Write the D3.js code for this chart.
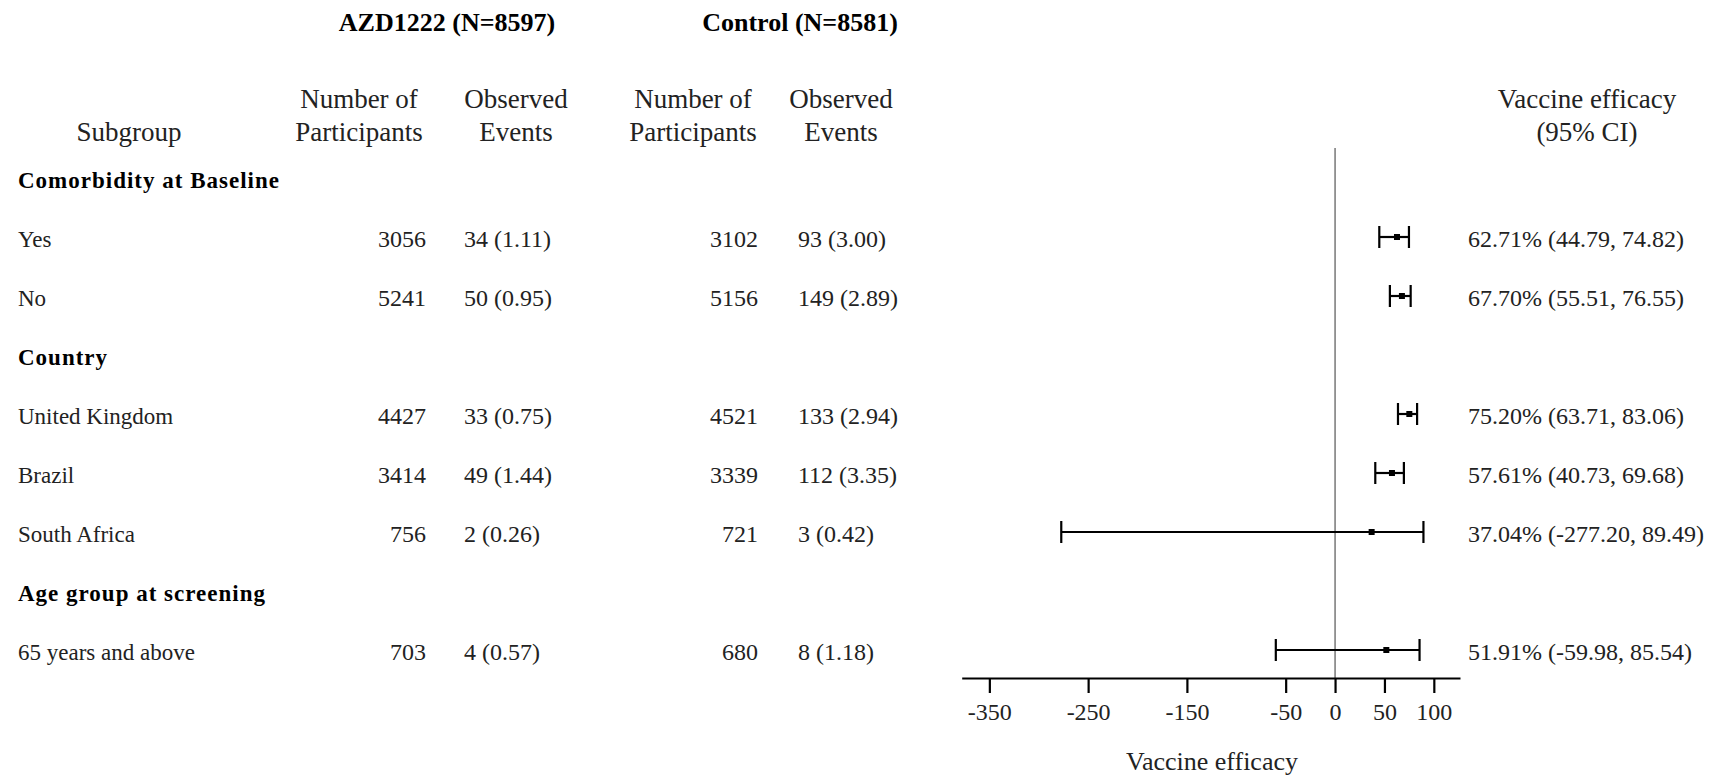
<!DOCTYPE html>
<html>
<head>
<meta charset="utf-8">
<script src="https://cdn.jsdelivr.net/npm/d3@7"></script>
<style>
  body { margin: 0; background: #fff; }
  svg { display: block; }
  text { font-family: "Liberation Serif", "Times New Roman", serif; fill: #222; }
</style>
</head>
<body>
<svg></svg>
<script>
const width = 1731;
const height = 776;

// table rows, top to bottom
const rowLabels = ['Comorbidity at Baseline', 'Yes', 'No', 'Country', 'United Kingdom',
  'Brazil', 'South Africa', 'Age group at screening', '65 years and above'];
const rowIsHeader = [true, false, false, true, false, false, false, true, false];

const azdN = [null, 3056, 5241, null, 4427, 3414, 756, null, 703];
const azdEvents = [null, '34 (1.11)', '50 (0.95)', null, '33 (0.75)', '49 (1.44)', '2 (0.26)', null, '4 (0.57)'];
const ctlN = [null, 3102, 5156, null, 4521, 3339, 721, null, 680];
const ctlEvents = [null, '93 (3.00)', '149 (2.89)', null, '133 (2.94)', '112 (3.35)', '3 (0.42)', null, '8 (1.18)'];

const ve = [null, 62.71, 67.70, null, 75.20, 57.61, 37.04, null, 51.91];
const veLow = [null, 44.79, 55.51, null, 63.71, 40.73, -277.20, null, -59.98];
const veHigh = [null, 74.82, 76.55, null, 83.06, 69.68, 89.49, null, 85.54];

const xTicks = [-350, -250, -150, -50, 0, 50, 100];

const svg = d3.select('svg')
  .attr('width', width)
  .attr('height', height);

const rows = rowLabels.map((label, i) => ({
  i, label, header: rowIsHeader[i],
  azdN: azdN[i], azdEvents: azdEvents[i],
  ctlN: ctlN[i], ctlEvents: ctlEvents[i],
  ve: ve[i], lo: veLow[i], hi: veHigh[i]
}));
const dataRows = rows.filter(d => !d.header);

const y = d3.scalePoint()
  .domain(rows.map(d => d.i))
  .range([180, 652]);

const x = d3.scaleLinear()
  .domain([-378, 126.5])
  .range([961.7, 1460]);

// column headings
const head = svg.append('g');
head.append('text')
  .attr('x', 447).attr('y', 31)
  .attr('text-anchor', 'middle')
  .attr('font-size', 26).attr('font-weight', 'bold')
  .style('fill', '#000')
  .text('AZD1222 (N=8597)');
head.append('text')
  .attr('x', 800).attr('y', 31)
  .attr('text-anchor', 'middle')
  .attr('font-size', 26).attr('font-weight', 'bold')
  .style('fill', '#000')
  .text('Control (N=8581)');

const colHeads = [
  { x: 129, lines: ['', 'Subgroup'] },
  { x: 359, lines: ['Number of', 'Participants'] },
  { x: 516, lines: ['Observed', 'Events'] },
  { x: 693, lines: ['Number of', 'Participants'] },
  { x: 841, lines: ['Observed', 'Events'] },
  { x: 1587, lines: ['Vaccine efficacy', '(95% CI)'] }
];
colHeads.forEach(c => {
  c.lines.forEach((t, k) => {
    head.append('text')
      .attr('x', c.x).attr('y', 108 + k * 33)
      .attr('text-anchor', 'middle')
      .attr('font-size', 27)
      .text(t);
  });
});

// left table
const table = svg.append('g');
table.selectAll('.label')
  .data(rows)
  .enter()
  .append('text')
    .attr('class', 'label')
    .attr('x', 18)
    .attr('y', d => y(d.i) + 8)
    .attr('font-size', 23)
    .attr('font-weight', d => d.header ? 'bold' : 'normal')
    .attr('letter-spacing', d => d.header ? 1 : 0)
    .style('fill', d => d.header ? '#000' : null)
    .text(d => d.label);

const cols = [
  { key: 'azdN', x: 426, anchor: 'end' },
  { key: 'azdEvents', x: 464, anchor: 'start' },
  { key: 'ctlN', x: 758, anchor: 'end' },
  { key: 'ctlEvents', x: 798, anchor: 'start' }
];
cols.forEach(c => {
  table.selectAll('.c-' + c.key)
    .data(dataRows)
    .enter()
    .append('text')
      .attr('class', 'c-' + c.key)
      .attr('x', c.x)
      .attr('y', d => y(d.i) + 8)
      .attr('text-anchor', c.anchor)
      .attr('font-size', 24)
      .text(d => d[c.key]);
});

// forest plot
const plot = svg.append('g');

plot.append('line')
  .attr('x1', x(0)).attr('x2', x(0))
  .attr('y1', 148).attr('y2', 678)
  .attr('stroke', '#555')
  .attr('stroke-width', 1.2);

const xAxis = d3.axisBottom(x)
  .tickValues(xTicks)
  .tickFormat(d => String(d))   // plain hyphen, like the source
  .tickSize(15)
  .tickSizeOuter(0)
  .tickPadding(10);

const axisG = plot.append('g')
  .attr('transform', 'translate(0,678)')
  .call(xAxis);
axisG.select('.domain')
  .attr('stroke', '#000')
  .attr('stroke-width', 2.2);
axisG.selectAll('.tick line')
  .attr('stroke', '#000')
  .attr('stroke-width', 2.2);
axisG.selectAll('.tick text')
  .attr('font-family', '"Liberation Serif", "Times New Roman", serif')
  .attr('font-size', 24)
  .style('fill', '#222');

plot.append('text')
  .attr('x', 1212).attr('y', 770)
  .attr('text-anchor', 'middle')
  .attr('font-size', 26)
  .text('Vaccine efficacy');

const ci = plot.selectAll('.ci')
  .data(dataRows)
  .enter()
  .append('g')
    .attr('class', 'ci')
    .attr('transform', d => `translate(0,${y(d.i) - 2})`);

ci.append('line')
  .attr('x1', d => x(d.lo)).attr('x2', d => x(d.hi))
  .attr('stroke', '#000').attr('stroke-width', 2.2);
ci.append('line')
  .attr('x1', d => x(d.lo)).attr('x2', d => x(d.lo))
  .attr('y1', -11).attr('y2', 11)
  .attr('stroke', '#000').attr('stroke-width', 2.2);
ci.append('line')
  .attr('x1', d => x(d.hi)).attr('x2', d => x(d.hi))
  .attr('y1', -11).attr('y2', 11)
  .attr('stroke', '#000').attr('stroke-width', 2.2);
ci.append('rect')
  .attr('x', d => x(d.ve) - 3)
  .attr('y', -3)
  .attr('width', 6).attr('height', 6)
  .attr('fill', '#000');

plot.selectAll('.ve-label')
  .data(dataRows)
  .enter()
  .append('text')
    .attr('class', 've-label')
    .attr('x', 1468)
    .attr('y', d => y(d.i) + 8)
    .attr('font-size', 24)
    .text(d => `${d.ve.toFixed(2)}% (${d.lo.toFixed(2)}, ${d.hi.toFixed(2)})`);
</script>
</body>
</html>
